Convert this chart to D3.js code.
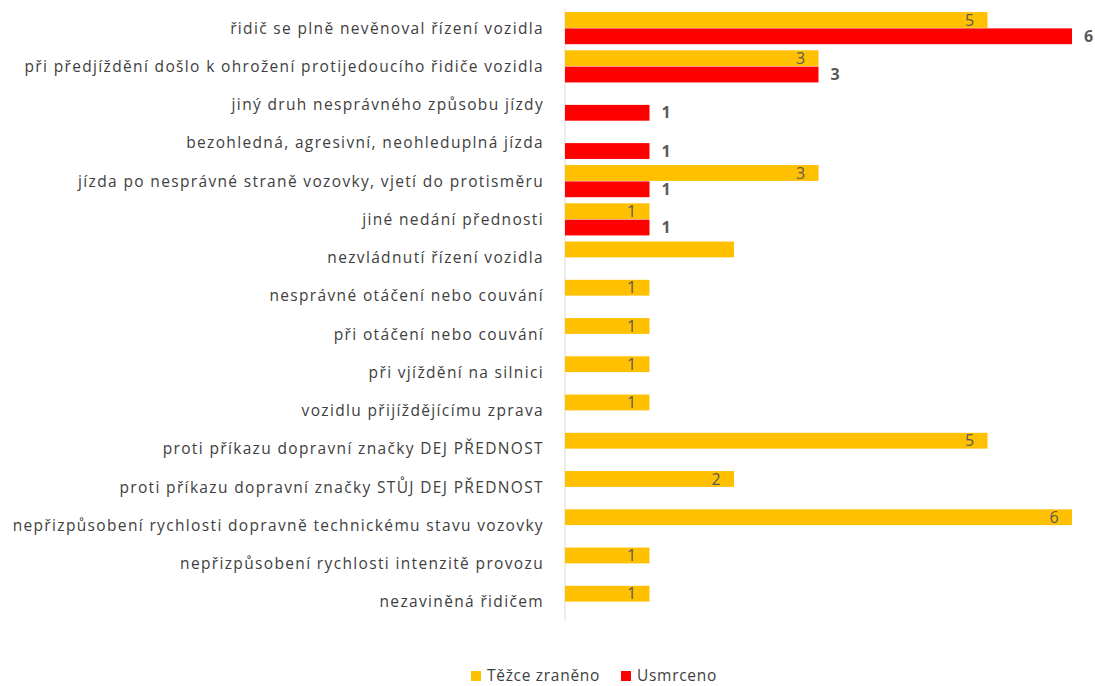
<!DOCTYPE html>
<html><head><meta charset="utf-8">
<script src="https://cdn.jsdelivr.net/npm/d3@7/dist/d3.min.js"></script>
<style>body{margin:0;background:#fff}svg{display:block}</style>
</head><body><svg id="c" width="1095" height="686"></svg>
<script>
const categories = [
 "řidič se plně nevěnoval řízení vozidla",
 "při předjíždění došlo k ohrožení protijedoucího řidiče vozidla",
 "jiný druh nesprávného způsobu jízdy",
 "bezohledná, agresivní, neohleduplná jízda",
 "jízda po nesprávné straně vozovky, vjetí do protisměru",
 "jiné nedání přednosti",
 "nezvládnutí řízení vozidla",
 "nesprávné otáčení nebo couvání",
 "při otáčení nebo couvání",
 "při vjíždění na silnici",
 "vozidlu přijíždějícímu zprava",
 "proti příkazu dopravní značky DEJ PŘEDNOST",
 "proti příkazu dopravní značky STŮJ DEJ PŘEDNOST",
 "nepřizpůsobení rychlosti dopravně technickému stavu vozovky",
 "nepřizpůsobení rychlosti intenzitě provozu",
 "nezaviněná řidičem"
];
const tezce = [5,3,null,null,3,1,2,1,1,1,1,5,2,6,1,1];
const tezceLabels = ["5","3","","","3","1","","1","1","1","1","5","2","6","1","1"];
const usmrceno = [6,3,1,1,1,1,null,null,null,null,null,null,null,null,null,null];
const seriesNames = ["Těžce zraněno","Usmrceno"];
const colors = ["#FFC000","#FF0000"];

const svg = d3.select("#c");
const font = "'Open Sans', sans-serif";
const x = d3.scaleLinear().domain([0,6]).range([565,1072]);
const y = d3.scaleBand().domain(categories).range([9,621]).paddingInner(0.16).paddingOuter(0.08);
const sub = d3.scaleBand().domain([0,1]).range([0,y.bandwidth()]).paddingInner(0.03);

svg.append("line").attr("x1",565).attr("x2",565).attr("y1",9).attr("y2",621)
  .attr("stroke","#d9d9d9").attr("stroke-width",1);

svg.append("g").selectAll("text").data(categories).join("text")
  .attr("x",544).attr("y",d=>y(d)+y.bandwidth()/2).attr("dy","0.35em")
  .attr("text-anchor","end").attr("font-family",font).attr("font-size",15.5)
  .attr("letter-spacing","1.35px")
  .attr("fill","#404040").text(d=>d);

const gT = svg.append("g");
categories.forEach((c,i)=>{
  if(tezce[i]!=null){
    gT.append("rect").attr("x",x(0)).attr("y",y(c)+sub(0))
      .attr("width",x(tezce[i])-x(0)).attr("height",sub.bandwidth()).attr("fill",colors[0]);
    if(tezceLabels[i]) gT.append("text").attr("x",x(tezce[i])-18).attr("y",y(c)+sub(0)+sub.bandwidth()/2)
      .attr("dy","0.35em").attr("text-anchor","middle").attr("font-family",font).attr("font-size",16)
      .attr("fill","#595959").text(tezceLabels[i]);
  }
  if(usmrceno[i]!=null){
    gT.append("rect").attr("x",x(0)).attr("y",y(c)+sub(1))
      .attr("width",x(usmrceno[i])-x(0)).attr("height",sub.bandwidth()).attr("fill",colors[1]);
    gT.append("text").attr("x",x(usmrceno[i])+12).attr("y",y(c)+sub(1)+sub.bandwidth()/2)
      .attr("dy","0.35em").attr("text-anchor","start").attr("font-family",font).attr("font-size",16)
      .attr("font-weight","bold").attr("fill","#595959").text(usmrceno[i]);
  }
});

const leg = svg.append("g");
const legX = [471,621];
seriesNames.forEach((n,i)=>{
  leg.append("rect").attr("x",legX[i]).attr("y",671).attr("width",10).attr("height",10).attr("fill",colors[i]);
  leg.append("text").attr("x",legX[i]+16).attr("y",676).attr("dy","0.35em")
    .attr("font-family",font).attr("font-size",15.5).attr("letter-spacing","0.7px")
    .attr("fill","#404040").text(n);
});
</script></body></html>
